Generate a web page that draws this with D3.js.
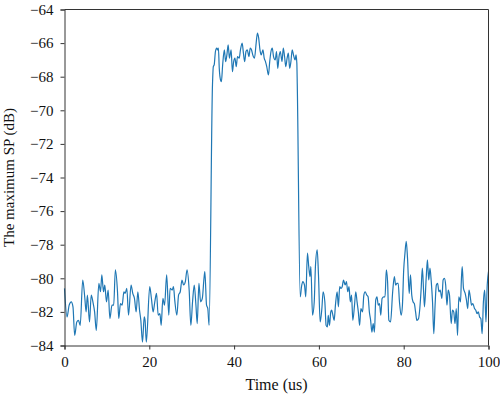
<!DOCTYPE html>
<html><head><meta charset="utf-8">
<script src="https://cdn.jsdelivr.net/npm/d3@7/dist/d3.min.js"></script>
<style>
html,body{margin:0;padding:0;background:#fff;}
svg{display:block;}
text{font-family:"Liberation Serif","DejaVu Serif",serif;}
</style></head>
<body><svg id="chart" width="500" height="397"></svg>
<script>
// ---- data ----
const timeUs = [
 0,0.6,1.1,1.6,2.0,2.4,2.9,3.3,3.7,4.3,4.8,5.1,5.4,5.9,6.3,6.7,7.1,7.5,8.1,8.5,8.8,9.2,9.5,9.9,10.3,10.7,11.2,11.6,12.0,12.5,12.8,13.2,13.6,14.0,14.3,14.7,15.1,15.7,16.1,16.5,16.9,17.3,17.7,18.0,18.4,18.8,19.0,19.3,
 20.1,20.5,20.9,21.3,21.7,22.1,22.5,22.8,23.2,23.6,24.1,24.6,24.9,25.4,25.7,26.0,26.5,26.9,27.3,27.7,28.1,28.5,28.9,29.4,29.8,30.2,30.6,31.0,31.3,31.7,32.1,32.5,32.9,33.1,33.5,33.8,34.1,
 34.9,35.1,35.3,35.6,35.9,36.1,36.3,36.5,36.8,37.0,37.3,37.7,38.0,38.3,38.6,38.9,39.3,39.6,39.9,40.2,40.5,40.8,41.2,41.5,41.9,42.2,42.5,42.8,43.1,43.5,43.8,44.1,44.4,44.8,45.2,45.5,45.8,46.1,46.4,46.8,47.1,47.4,47.7,48.1,48.4,48.7,49.0,49.3,49.7,50.0,50.3,50.6,50.9,51.3,51.6,51.9,52.2,52.5,52.8,53.1,53.4,53.7,54.0,54.4,54.6,54.8,54.9,
 55.6,55.9,56.2,56.6,56.9,57.3,57.6,57.9,58.1,58.5,58.9,59.2,59.6,59.9,60.3,60.7,61.0,61.4,61.7,62.0,62.2,62.5,62.8,63.0,63.3,63.6,63.9,64.3,64.6,64.9,65.2,65.5,65.8,66.2,66.5,66.8,67.1,67.4,67.7,68.0,68.4,68.7,69.0,69.3,69.6,69.9,70.3,70.6,70.9,71.3,71.6,71.9,72.2,72.5,72.8,73.1,73.4,73.7,74.0,74.3,74.6,74.9,75.3,75.6,75.9,76.2,76.5,76.9,
 77.4,77.8,78.1,78.4,78.7,79.0,79.4,79.7,80.0,80.3,80.6,80.9,81.3,81.6,81.9,82.2,82.5,82.8,83.1,83.5,83.8,84.1,84.4,84.7,84.9,85.3,85.6,85.9,86.2,86.5,86.8,87.1,87.4,87.7,88.0,88.3,88.6,89.0,89.3,89.6,89.9,90.2,90.5,90.8,91.2,91.5,91.8,92.1,92.4,92.7,93.0,93.4,93.6,93.8,94.1,94.5,94.8,95.1,95.4,95.7,96.0,96.3,96.7,97.0,97.3,97.6,97.9,98.2,98.5,98.8,99.1,99.4,99.7,100.0
];
const maxSP = [
 -80.6,-82.3,-81.6,-81.4,-81.7,-83.4,-82.6,-82.5,-82.8,-80.1,-81.2,-82.0,-81.0,-82.6,-81.0,-81.4,-82.0,-83.1,-80.3,-80.8,-79.8,-80.8,-80.4,-81.4,-80.7,-82.4,-81.6,-81.6,-79.5,-80.8,-82.4,-81.5,-81.6,-80.8,-80.9,-80.6,-82.2,-80.4,-80.9,-81.2,-82.0,-80.8,-81.9,-82.5,-83.8,-82.3,-82.5,-83.8,
 -80.5,-81.2,-82.0,-81.4,-80.9,-82.2,-82.1,-82.8,-81.2,-81.6,-79.8,-82.2,-80.6,-80.7,-80.5,-81.3,-82.2,-81.0,-80.8,-80.1,-80.4,-80.2,-79.5,-80.7,-82.8,-81.4,-80.4,-81.6,-82.7,-80.3,-81.4,-81.2,-80.0,-79.6,-81.6,-81.8,-82.8,
 -68.5,-67.4,-67.3,-66.5,-66.3,-66.4,-66.3,-67.5,-68.2,-68.3,-67.3,-66.4,-67.1,-66.7,-66.1,-66.9,-66.4,-67.7,-67.1,-66.9,-67.4,-66.8,-66.9,-66.4,-66.0,-66.6,-67.1,-66.5,-66.4,-66.8,-66.3,-66.4,-66.7,-66.9,-66.0,-65.4,-65.7,-66.4,-66.7,-66.4,-66.9,-67.1,-67.4,-67.9,-67.1,-66.5,-66.3,-66.8,-67.0,-66.5,-67.5,-66.8,-66.5,-67.1,-66.3,-66.8,-67.4,-66.9,-66.6,-67.5,-67.1,-66.4,-66.7,-67.0,-66.7,-67.2,-68.5,
 -81.1,-80.5,-80.2,-80.4,-81.1,-78.5,-79.3,-79.9,-79.3,-82.2,-81.4,-79.2,-78.3,-79.8,-82.6,-81.8,-80.8,-81.4,-82.8,-82.9,-82.2,-82.8,-82.0,-81.9,-82.2,-82.5,-81.6,-80.8,-81.7,-80.5,-80.6,-80.5,-80.1,-80.4,-80.2,-80.8,-80.5,-81.4,-81.0,-82.5,-81.6,-80.8,-81.4,-82.0,-82.8,-81.8,-82.0,-81.0,-80.8,-81.0,-81.1,-82.0,-82.5,-83.2,-82.7,-83.2,-81.3,-81.1,-81.6,-81.5,-82.2,-81.2,-81.1,-81.1,-79.5,-80.2,-82.5,-82.6,
 -80.8,-79.9,-80.4,-80.3,-80.3,-81.4,-82.2,-81.6,-79.5,-78.5,-77.8,-78.8,-80.9,-79.8,-81.0,-81.4,-81.5,-82.0,-82.5,-82.4,-81.8,-80.7,-79.4,-80.8,-81.7,-80.0,-78.9,-80.1,-79.4,-80.2,-81.4,-83.3,-81.6,-80.4,-80.3,-80.8,-80.7,-81.2,-80.1,-80.0,-80.4,-81.6,-80.7,-81.0,-82.7,-81.9,-82.0,-82.7,-81.8,-83.4,-81.1,-81.4,-80.1,-79.3,-80.6,-80.9,-81.3,-81.8,-80.7,-81.1,-81.6,-81.5,-81.8,-81.9,-82.1,-82.0,-82.3,-82.4,-83.3,-81.4,-80.7,-82.6,-80.4,-79.6
];
const xTicks = [0, 20, 40, 60, 80, 100];
const yTicks = [-84, -82, -80, -78, -76, -74, -72, -70, -68, -66, -64];
const xTitle = "Time (us)";
const yTitle = "The maximum SP (dB)";

// ---- layout ----
const L = 64.5, R = 488.5, T = 9.5, B = 345.5;
const svg = d3.select("#chart");
const x = d3.scaleLinear().domain([0, 100]).range([L, R]);
const y = d3.scaleLinear().domain([-84, -64]).range([B, T]);

const points = timeUs.map((t, i) => [t, maxSP[i]]);

svg.append("path")
  .datum(points)
  .attr("fill", "none")
  .attr("stroke", "#1f77b4")
  .attr("stroke-width", 1.2)
  .attr("stroke-linejoin", "round")
  .attr("d", d3.line().x(d => x(d[0])).y(d => y(d[1])).curve(d3.curveMonotoneX));

const axisColor = "#333";
const fmt = d => d3.format("")(d);

const gx = svg.append("g").attr("transform", `translate(0,${B})`)
  .call(d3.axisBottom(x).tickValues(xTicks).tickSize(4).tickPadding(7).tickFormat(fmt));
const gy = svg.append("g").attr("transform", `translate(${L},0)`)
  .call(d3.axisLeft(y).tickValues(yTicks).tickSize(4).tickPadding(7).tickFormat(fmt));
[gx, gy].forEach(g => {
  g.select(".domain").attr("stroke", axisColor);
  g.selectAll(".tick line").attr("stroke", axisColor);
  g.selectAll(".tick text").attr("fill", "#111").style("font-size", "15px")
    .style("font-family", '"Liberation Serif","DejaVu Serif",serif');
});
// top & right spines
svg.append("line").attr("x1", L).attr("x2", R).attr("y1", T).attr("y2", T).attr("stroke", axisColor);
svg.append("line").attr("x1", R).attr("x2", R).attr("y1", T).attr("y2", B).attr("stroke", axisColor);

svg.append("text").attr("x", (L + R) / 2).attr("y", 390)
  .attr("text-anchor", "middle").attr("fill", "#111").style("font-size", "16px").text(xTitle);
svg.append("text").attr("transform", `translate(14,${(T + B) / 2}) rotate(-90)`)
  .attr("text-anchor", "middle").attr("fill", "#111").style("font-size", "15px").text(yTitle);
</script></body></html>
